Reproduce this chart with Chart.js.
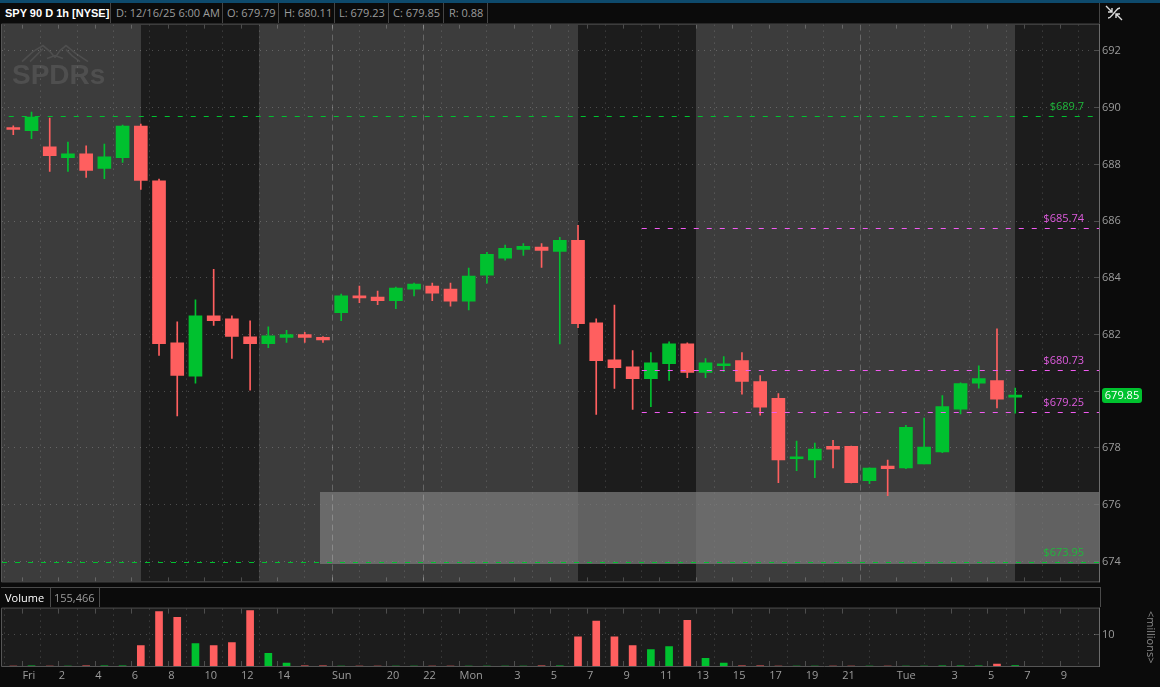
<!DOCTYPE html>
<html>
<head>
<meta charset="utf-8">
<title>SPY 90 D 1h</title>
<script src="https://cdn.jsdelivr.net/npm/chart.js@4.4.1/dist/chart.umd.min.js"></script>
<style>
body { margin: 0; background: #0b0b0b; width: 1160px; height: 687px; overflow: hidden; position: relative; font-family: 'Open Sans', sans-serif; }
#topStrip { position: absolute; left: 0; top: 0; width: 1160px; height: 3px; background: #0e4a6c; }
.cell { position: absolute; top: 3px; height: 20px; line-height: 20px; font-size: 11px; color: #9c9c9c; border-right: 1px solid #454545; box-sizing: border-box; padding-left: 5px; white-space: nowrap; }
.cell.title { color: #fff; font-weight: bold; font-family: 'Liberation Sans', sans-serif; font-size: 11px; padding-left: 4px; }
#hdrEnd { position: absolute; left: 1099px; top: 3px; width: 1px; height: 20px; background: #454545; }
#icon { position: absolute; left: 1104px; top: 4px; }
#volHdr { position: absolute; left: 1px; top: 587px; width: 1100px; height: 20px; border-top: 1px solid #4a4a4a; border-right: 1px solid #4a4a4a; box-sizing: border-box; }
.vcell { position: absolute; top: 0; height: 19px; line-height: 19px; font-size: 11px; border-right: 1px solid #4a4a4a; box-sizing: border-box; white-space: nowrap; }
canvas { position: absolute; left: 0; }
#priceChart { top: 15px; }
#volumeChart { top: 599px; }
#millions { position: absolute; left: 1143px; top: 611px; writing-mode: vertical-rl; font-size: 11px; color: #8a8a8a; line-height: 16px; }
</style>
</head>
<body>
<div id="topStrip"></div>
<div class="cell title" style="left:1px;width:110px">SPY 90 D 1h [NYSE]</div>
<div class="cell" style="left:111px;width:112px">D: 12/16/25 6:00 AM</div>
<div class="cell" style="left:223px;width:56px;padding-left:4px">O: 679.79</div>
<div class="cell" style="left:279px;width:56px">H: 680.11</div>
<div class="cell" style="left:335px;width:54px;padding-left:4px">L: 679.23</div>
<div class="cell" style="left:389px;width:55px;padding-left:4px">C: 679.85</div>
<div class="cell" style="left:444px;width:44px">R: 0.88</div>
<div id="hdrEnd"></div>
<svg id="icon" width="20" height="18" viewBox="0 0 20 18" fill="none" stroke="#dddddd" stroke-width="1.4">
  <path d="M2 2 L8 8 M8 4 L8 8 L4 8"/>
  <path d="M18 16 L12 10 M12 14 L12 10 L16 10"/>
  <path d="M4 14 C7 14 8 11 10 9 C12 7 13 4 16 4"/>
</svg>

<canvas id="priceChart" width="1160" height="576"></canvas>

<div id="volHdr">
  <div class="vcell" style="left:0;width:50px;padding-left:4px;color:#ffffff">Volume</div>
  <div class="vcell" style="left:50px;width:49px;padding-left:3px;color:#9c9c9c">155,466</div>
</div>
<canvas id="volumeChart" width="1160" height="88"></canvas>
<div id="millions">&lt;millions&gt;</div>

<script>
// ---- data (hourly bars, Fri -> Tue) ----
const timeTicks = [0.5, 2.5, 4.5, 6.5, 8.5, 10.5, 12.5, 14.5, 17.5, 20.5, 22.5, 24.5, 27.5, 29.5,
                   31.5, 33.5, 35.5, 37.5, 39.5, 41.5, 43.5, 45.5, 48.5, 51.5, 53.5, 55.5, 57.5];
const timeLabels = ['Fri', '2', '4', '6', '8', '10', '12', '14', 'Sun', '20', '22', 'Mon', '3', '5',
                    '7', '9', '11', '13', '15', '17', '19', '21', 'Tue', '3', '5', '7', '9'];

const opens = [689.30, 689.19, 688.62, 688.24, 688.37, 687.86, 688.24, 689.35, 687.42, 681.71,
               680.53, 682.66, 682.55, 681.92, 681.68, 681.90, 682.00, 681.90, 682.77, 683.36,
               683.32, 683.19, 683.60, 683.71, 683.60, 683.18, 684.09, 684.69, 685.00, 685.08,
               684.93, 685.32, 682.41, 681.11, 680.86, 680.44, 680.97, 681.67, 680.66, 680.90,
               681.08, 680.34, 679.75, 677.62, 677.58, 678.06, 678.06, 676.85, 677.36, 677.30,
               677.44, 677.86, 679.37, 680.28, 680.38, 679.79];
const highs = [689.36, 689.84, 689.63, 688.79, 688.65, 688.72, 689.39, 689.42, 687.48, 682.45,
               683.22, 684.30, 682.66, 682.48, 682.27, 682.15, 682.08, 681.93, 683.43, 683.71,
               683.53, 683.67, 683.81, 683.81, 683.81, 684.34, 684.90, 685.15, 685.21, 685.21,
               685.43, 685.85, 682.55, 683.04, 681.43, 681.36, 681.74, 681.71, 681.15, 681.22,
               681.36, 680.55, 679.92, 678.24, 678.17, 678.27, 678.07, 677.30, 677.57, 678.80,
               679.05, 679.85, 680.30, 680.90, 682.20, 680.11];
const lows = [689.05, 688.91, 687.75, 687.75, 687.54, 687.50, 688.07, 687.12, 681.26, 679.13,
              680.28, 682.32, 681.16, 680.04, 681.54, 681.72, 681.72, 681.72, 682.49, 683.12,
              683.05, 682.91, 683.36, 683.19, 683.00, 682.87, 683.81, 684.62, 684.79, 684.37,
              681.67, 682.24, 679.18, 680.10, 679.36, 679.46, 680.38, 680.48, 680.48, 680.69,
              679.90, 679.16, 676.78, 677.20, 676.95, 677.30, 676.77, 676.74, 676.32, 677.27,
              677.44, 677.83, 679.20, 680.11, 679.41, 679.23];
const closes = [689.23, 689.67, 688.31, 688.37, 687.79, 688.27, 689.35, 687.43, 681.68, 680.56,
                682.66, 682.49, 681.93, 681.68, 681.95, 682.00, 681.90, 681.81, 683.36, 683.29,
                683.19, 683.64, 683.78, 683.46, 683.18, 684.06, 684.83, 685.04, 685.11, 684.97,
                685.32, 682.38, 681.08, 680.83, 680.44, 681.00, 681.67, 680.66, 681.00, 680.97,
                680.35, 679.44, 677.58, 677.68, 677.96, 677.96, 676.78, 677.29, 677.27, 678.73,
                678.03, 679.46, 680.27, 680.45, 679.72, 679.85];
// volume in millions (extended-hours bars are too small to show)
const volumes = [0.01, 0.02, 0.01, 0.01, 0.02, 0.02, 0.03, 6.6, 17.5, 15.6,
                 7.2, 6.6, 7.5, 17.8, 4.1, 0.9, 0.03, 0.02, 0.01, 0.01,
                 0.01, 0.01, 0.01, 0.01, 0.01, 0.01, 0.01, 0.01, 0.01, 0.02,
                 0.03, 9.4, 14.4, 9.4, 6.6, 5.3, 6.25, 14.7, 2.5, 0.9,
                 0.03, 0.02, 0.01, 0.01, 0.01, 0.01, 0.01, 0.01, 0.01, 0.01,
                 0.01, 0.02, 0.02, 0.03, 0.6, 0.155];

const priceTicks = [674, 676, 678, 680, 682, 684, 686, 688, 690, 692];
const volumeTicks = [10];

// regular trading hours (darker background), in bar units
const rthSessions = [[7.0, 13.5], [31.0, 37.5], [55.0, 60]];
const daySeparators = [17.5, 22.5, 46.5];

// price level drawings
const levelPrices = [689.7, 685.74, 680.73, 679.25, 673.95];
const levelStarts = [-0.25, 34.5, 34.5, 34.5, -0.62];
const levelKinds = ['green', 'pink', 'pink', 'pink', 'green'];
const zoneRange = [673.92, 676.45];
const zoneStart = 16.85;

// ---- styles ----
const UP = '#00c12f';
const DOWN = '#ff5f5f';
const EXT_BG = '#3c3c3c';
const RTH_BG = '#1c1c1c';
const GRID = 'rgba(255,255,255,0.22)';
const AXIS_TEXT = '#9c9c9c';
const FRAME = '#555555';
const LEVEL_LINE = { green: '#00c12f', pink: '#f25af2' };
const LEVEL_TEXT = { green: '#1fb83b', pink: '#df5cdf' };
const X_MIN = -0.62, X_MAX = 59.6;

Chart.defaults.font.family = "'Open Sans', sans-serif";
Chart.defaults.font.size = 11;
Chart.defaults.color = AXIS_TEXT;
Chart.defaults.animation = false;

const candleColors = closes.map((c, i) => c >= opens[i] ? UP : DOWN);
const lastPrice = closes[closes.length - 1];

function px(v) { return Math.round(v - 0.5) + 0.5; }

function drawGridEnds(chart, len) {
    const { ctx, chartArea: a, scales: { x, y } } = chart;
    ctx.save();
    ctx.strokeStyle = GRID;
    ctx.lineWidth = 1;
    ctx.beginPath();
    x.ticks.forEach(t => {
        const xx = px(x.getPixelForValue(t.value));
        ctx.moveTo(xx, a.top); ctx.lineTo(xx, a.top + len);
        ctx.moveTo(xx, a.bottom); ctx.lineTo(xx, a.bottom - len);
    });
    y.ticks.forEach(t => {
        const yy = px(y.getPixelForValue(t.value));
        ctx.moveTo(a.right, yy); ctx.lineTo(a.right - len, yy);
    });
    ctx.stroke();
    ctx.restore();
}

function drawFrame(ctx, a) {
    ctx.save();
    ctx.lineWidth = 1;
    ctx.strokeStyle = FRAME;
    ctx.beginPath();
    ctx.moveTo(a.left - 0.5, a.top - 0.5); ctx.lineTo(a.right, a.top - 0.5);
    ctx.moveTo(a.left - 0.5, a.top - 0.5); ctx.lineTo(a.left - 0.5, a.bottom + 0.5);
    ctx.moveTo(a.left - 0.5, a.bottom + 0.5); ctx.lineTo(a.right, a.bottom + 0.5);
    ctx.stroke();
    ctx.strokeStyle = '#6b6b6b';
    ctx.beginPath();
    ctx.moveTo(a.right + 0.5, a.top - 1); ctx.lineTo(a.right + 0.5, a.bottom + 1);
    ctx.stroke();
    ctx.restore();
}

// SPDRs watermark, page coords shifted into the canvas
function drawLogo(ctx, a) {
    const oy = a.top - 23;
    ctx.save();
    ctx.strokeStyle = '#4e4e4e';
    ctx.lineWidth = 1.6;
    const arms = [
        [[22, 60], [33, 50], [43, 44], [50, 50], [55, 56]],
        [[30, 60], [38, 52], [43, 47]],
        [[55, 56], [60, 49], [66, 44], [76, 52], [88, 60]],
        [[66, 48], [72, 54], [80, 60]],
        [[47, 57], [55, 54], [63, 57]]
    ];
    arms.forEach(pts => {
        ctx.beginPath();
        pts.forEach(([x, y], k) => k ? ctx.lineTo(x, y + oy) : ctx.moveTo(x, y + oy));
        ctx.stroke();
    });
    ctx.fillStyle = '#4f4f4f';
    ctx.font = "bold 28px 'Liberation Sans', sans-serif";
    ctx.textBaseline = 'alphabetic';
    ctx.fillText('SPDRs', 12, 82 + oy);
    ctx.restore();
}

const pricePanel = {
    id: 'pricePanel',
    beforeDraw(chart) {
        const { ctx, chartArea: a, scales: { x } } = chart;
        ctx.save();
        ctx.fillStyle = EXT_BG;
        ctx.fillRect(a.left, a.top, a.width, a.height);
        ctx.fillStyle = RTH_BG;
        rthSessions.forEach(([from, to]) => {
            const x0 = Math.round(Math.max(a.left, x.getPixelForValue(from)));
            const x1 = Math.round(Math.min(a.right, x.getPixelForValue(to)));
            ctx.fillRect(x0, a.top, x1 - x0, a.height);
        });
        drawLogo(ctx, a);
        ctx.restore();
    },
    beforeDatasetsDraw(chart) {
        const { ctx, chartArea: a, scales: { x, y } } = chart;
        drawGridEnds(chart, 4);
        ctx.save();
        // support zone
        const zx = Math.round(x.getPixelForValue(zoneStart));
        const zt = Math.round(y.getPixelForValue(zoneRange[1]));
        const zb = Math.round(y.getPixelForValue(zoneRange[0]));
        ctx.fillStyle = 'rgba(125,125,125,0.72)';
        ctx.fillRect(zx, zt, a.right - zx, zb - zt);
        // session separators
        ctx.strokeStyle = 'rgba(255,255,255,0.22)';
        ctx.lineWidth = 1;
        ctx.setLineDash([6, 4]);
        daySeparators.forEach(v => {
            const xx = px(x.getPixelForValue(v));
            ctx.beginPath();
            ctx.moveTo(xx, a.top); ctx.lineTo(xx, a.bottom);
            ctx.stroke();
        });
        ctx.restore();
    },
    afterDatasetsDraw(chart) {
        const { ctx, chartArea: a, scales: { x, y } } = chart;
        ctx.save();
        ctx.lineWidth = 1;
        ctx.font = "11px 'Open Sans', sans-serif";
        ctx.textAlign = 'right';
        ctx.textBaseline = 'middle';
        levelPrices.forEach((p, i) => {
            const yy = px(y.getPixelForValue(p));
            const x0 = Math.max(a.left, x.getPixelForValue(levelStarts[i]));
            ctx.strokeStyle = LEVEL_LINE[levelKinds[i]];
            ctx.setLineDash([5, 8]);
            ctx.beginPath();
            ctx.moveTo(x0, yy); ctx.lineTo(a.right, yy);
            ctx.stroke();
            ctx.fillStyle = LEVEL_TEXT[levelKinds[i]];
            ctx.fillText('$' + p, a.right - 15, yy - 9.5);
        });
        ctx.restore();
    },
    afterDraw(chart) {
        const { ctx, chartArea: a, scales: { y } } = chart;
        drawFrame(ctx, a);
        // last price tag on the axis
        const yy = y.getPixelForValue(lastPrice);
        ctx.save();
        ctx.fillStyle = '#00c22e';
        ctx.beginPath();
        ctx.roundRect(a.right + 3, Math.round(yy) - 7, 40, 15, 3);
        ctx.fill();
        ctx.fillStyle = '#ffffff';
        ctx.font = "11px 'Open Sans', sans-serif";
        ctx.textAlign = 'center';
        ctx.textBaseline = 'middle';
        ctx.fillText(lastPrice.toFixed(2), a.right + 23, Math.round(yy) + 0.5);
        ctx.restore();
    }
};

const volumePanel = {
    id: 'volumePanel',
    beforeDraw(chart) {
        const { ctx, chartArea: a } = chart;
        ctx.save();
        ctx.fillStyle = RTH_BG;
        ctx.fillRect(a.left, a.top, a.width, a.height);
        ctx.restore();
    },
    beforeDatasetsDraw(chart) {
        drawGridEnds(chart, 5);
    },
    afterDraw(chart) {
        drawFrame(chart.ctx, chart.chartArea);
    }
};

const timeScale = (showLabels) => ({
    type: 'linear',
    min: X_MIN,
    max: X_MAX,
    offset: false,
    afterBuildTicks: s => { s.ticks = timeTicks.map(v => ({ value: v })); },
    afterFit: s => { s.height = showLabels ? 21 : 0; },
    grid: { color: GRID, lineWidth: 1, drawTicks: false },
    border: { display: false, dash: [1, 5] },
    ticks: {
        display: showLabels,
        autoSkip: false,
        maxRotation: 0,
        align: 'start',
        padding: 3,
        color: AXIS_TEXT,
        font: { size: 11 },
        callback: (v, i) => timeLabels[i]
    }
});

new Chart(document.getElementById('priceChart'), {
    type: 'bar',
    data: {
        datasets: [{
            label: 'wick',
            data: lows.map((l, i) => ({ x: i, y: [l, highs[i]] })),
            backgroundColor: candleColors,
            barThickness: 1,
            maxBarThickness: 1,
            grouped: false,
            order: 2
        }, {
            label: 'body',
            data: opens.map((o, i) => ({ x: i, y: [o, closes[i]] })),
            backgroundColor: candleColors,
            barThickness: 13,
            maxBarThickness: 13,
            minBarLength: 2,
            grouped: false,
            order: 1
        }]
    },
    options: {
        responsive: false,
        animation: false,
        events: [],
        layout: { padding: { left: 2, right: 0, top: 8, bottom: 8 } },
        plugins: { legend: { display: false }, tooltip: { enabled: false } },
        scales: {
            x: timeScale(false),
            y: {
                type: 'linear',
                position: 'right',
                min: 673.294,
                max: 692.929,
                afterBuildTicks: s => { s.ticks = priceTicks.map(v => ({ value: v })); },
                afterFit: s => { s.width = 61; },
                grid: { color: GRID, lineWidth: 1, drawTicks: false },
                border: { display: false, dash: [1, 5] },
                // labels under the last-price tag are hidden
                ticks: {
                    color: AXIS_TEXT, font: { size: 11 }, padding: 3,
                    callback: v => Math.abs(v - lastPrice) < 0.6 ? '' : String(v)
                }
            }
        }
    },
    plugins: [pricePanel]
});

new Chart(document.getElementById('volumeChart'), {
    type: 'bar',
    data: {
        datasets: [{
            label: 'Volume',
            data: volumes.map((v, i) => ({ x: i, y: v })),
            backgroundColor: candleColors,
            barThickness: 7,
            maxBarThickness: 7,
            grouped: false
        }]
    },
    options: {
        responsive: false,
        animation: false,
        events: [],
        layout: { padding: { left: 2, right: 0, top: 8, bottom: 0 } },
        plugins: { legend: { display: false }, tooltip: { enabled: false } },
        scales: {
            x: timeScale(true),
            y: {
                type: 'linear',
                position: 'right',
                min: 0,
                max: 18.44,
                afterBuildTicks: s => { s.ticks = volumeTicks.map(v => ({ value: v })); },
                afterFit: s => { s.width = 61; },
                grid: { color: GRID, lineWidth: 1, drawTicks: false },
                border: { display: false, dash: [1, 5] },
                ticks: { color: AXIS_TEXT, font: { size: 11 }, padding: 3, callback: v => String(v) }
            }
        }
    },
    plugins: [volumePanel]
});
</script>
</body>
</html>
